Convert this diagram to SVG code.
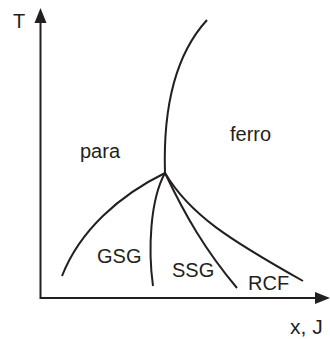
<svg xmlns="http://www.w3.org/2000/svg" width="330" height="339" viewBox="0 0 330 339">
<style>
text{font-family:"Liberation Sans",Arial,sans-serif;font-size:20px;fill:#231f20}
.ax{stroke:#231f20;stroke-width:2;fill:none}
.c{stroke:#231f20;stroke-width:2;fill:none}
.ah{fill:#231f20}
</style>
<rect width="330" height="339" fill="#fff"/>
<g id="axes">
<line class="ax" x1="40.5" y1="299" x2="40.5" y2="20"/>
<polygon class="ah" points="40.5,8 34.5,23 46.5,23"/>
<line class="ax" x1="40" y1="298" x2="318" y2="298"/>
<polygon class="ah" points="330,298 315,292 315,304"/>
</g>
<g id="connectors">
<path class="c" d="M165,173 C163,110 175,55 207,20"/>
<path class="c" d="M165,173 C120,195 80,230 62,276"/>
<path class="c" d="M165,173 C150,200 148,250 153,286"/>
<path class="c" d="M165,173 C185,215 205,250 237,288"/>
<path class="c" d="M165,173 C190,215 230,240 303,281"/>
</g>
<g id="labels">
<text x="13" y="28">T</text>
<text x="290" y="334" style="font-size:21px">x, J</text>
<text x="80" y="158">para</text>
<text x="230" y="141">ferro</text>
<text x="97" y="263">GSG</text>
<text x="172" y="277">SSG</text>
<text x="248" y="290">RCF</text>
</g>
</svg>
